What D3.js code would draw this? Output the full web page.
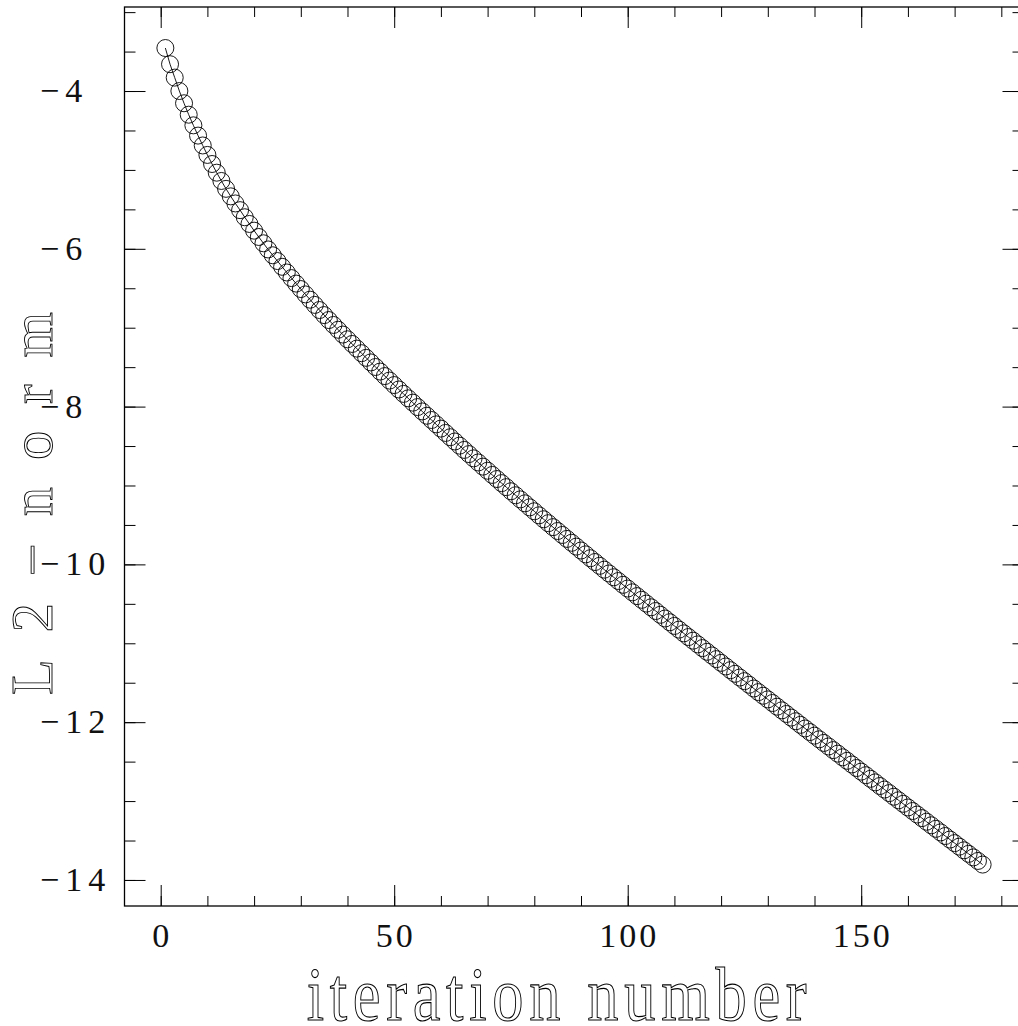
<!DOCTYPE html>
<html>
<head>
<meta charset="utf-8">
<script src="https://cdn.jsdelivr.net/npm/d3@7"></script>
<style>
  html, body { margin: 0; padding: 0; background: #fff; }
  svg { display: block; }
</style>
</head>
<body>
<svg id="chart" width="1018" height="1026"></svg>
<script>
// ---- data ----
const iterations = d3.range(1, 177);
const l2norm = [
  -3.455, -3.66, -3.83, -4.00, -4.155, -4.30, -4.435, -4.565, -4.69, -4.81,
  -4.925, -5.035, -5.14, -5.24, -5.335, -5.425, -5.51, -5.60, -5.685, -5.77,
  -5.85, -5.93, -6.008, -6.082, -6.155, -6.228, -6.30, -6.371, -6.441, -6.51,
  -6.578, -6.645, -6.711, -6.776, -6.84, -6.903, -6.965, -7.026, -7.087, -7.147,
  -7.206, -7.265, -7.323, -7.382, -7.44, -7.498, -7.556, -7.613, -7.67, -7.727,
  -7.783, -7.839,
  -7.895, -7.950, -8.006, -8.061, -8.116,
  -8.170, -8.225, -8.279, -8.334, -8.388,
  -8.442, -8.495, -8.549, -8.602, -8.656,
  -8.708, -8.761, -8.813, -8.866, -8.918,
  -8.970, -9.021, -9.073, -9.124, -9.176,
  -9.226, -9.277, -9.327, -9.378, -9.428,
  -9.478, -9.528, -9.577, -9.627, -9.677,
  -9.726, -9.775, -9.824, -9.873, -9.922,
  -9.970, -10.018, -10.067, -10.115, -10.163,
  -10.211, -10.259, -10.306, -10.354, -10.402,
  -10.449, -10.497, -10.544, -10.591, -10.639,
  -10.686, -10.733, -10.780, -10.827, -10.874,
  -10.921, -10.967, -11.014, -11.061, -11.108,
  -11.154, -11.201, -11.248, -11.294, -11.341,
  -11.387, -11.434, -11.480, -11.526, -11.573,
  -11.619, -11.665, -11.711, -11.757, -11.804,
  -11.850, -11.896, -11.942, -11.988, -12.034,
  -12.080, -12.125, -12.171, -12.217, -12.263,
  -12.308, -12.354, -12.399, -12.445, -12.490,
  -12.536, -12.581, -12.627, -12.672, -12.718,
  -12.763, -12.809, -12.854, -12.899, -12.945,
  -12.990, -13.035, -13.081, -13.126, -13.171,
  -13.216, -13.262, -13.307, -13.352, -13.397,
  -13.443, -13.488, -13.533, -13.578, -13.624,
  -13.669, -13.714, -13.759, -13.805
];
const xMajorTicks = [0, 50, 100, 150];
const xMinorTicks = [0, 10, 20, 30, 40, 50, 60, 70, 80, 90, 100, 110, 120, 130, 140, 150, 160, 170, 180];
const yMajorTicks = [-14, -12, -10, -8, -6, -4];
const yMinorTicks = [-14, -13.5, -13, -12.5, -12, -11.5, -11, -10.5, -10, -9.5, -9, -8.5, -8, -7.5, -7, -6.5, -6, -5.5, -5, -4.5, -4, -3.5, -3];
const xLabel = "iteration number";
const yLabel = "L2\u2212norm";

(function () {
// ---- layout ----
const pLeft = 124.5, pRight = 1023.5, pTop = 7, pBottom = 906;
const svg = d3.select("#chart");
const labFont = "'Liberation Serif', 'DejaVu Serif', serif";

// font metrics helper (canvas)
const ctx = document.createElement("canvas").getContext("2d");
function metrics(str, size) {
  ctx.font = `${size}px ${labFont}`;
  return ctx.measureText(str);
}

const x = d3.scaleLinear().domain([-7.75, 184.75]).range([pLeft, pRight]);
const y = d3.scaleLinear().domain([-14.33, -2.935]).range([pBottom, pTop]);

function styleAxis(g) {
  g.select(".domain").remove();
  g.selectAll(".tick line").attr("stroke", "#000").attr("stroke-width", 1);
  g.selectAll(".tick text").remove();
}

// bottom / top ticks (inside)
svg.append("g").attr("transform", `translate(0,${pBottom})`)
  .call(d3.axisBottom(x).tickValues(xMinorTicks).tickSize(-10).tickFormat("")).call(styleAxis);
svg.append("g").attr("transform", `translate(0,${pBottom})`)
  .call(d3.axisBottom(x).tickValues(xMajorTicks).tickSize(-21).tickFormat("")).call(styleAxis);
svg.append("g").attr("transform", `translate(0,${pTop})`)
  .call(d3.axisTop(x).tickValues(xMinorTicks).tickSize(-10).tickFormat("")).call(styleAxis);
svg.append("g").attr("transform", `translate(0,${pTop})`)
  .call(d3.axisTop(x).tickValues(xMajorTicks).tickSize(-21).tickFormat("")).call(styleAxis);

// left / right ticks (inside)
svg.append("g").attr("transform", `translate(${pLeft},0)`)
  .call(d3.axisLeft(y).tickValues(yMinorTicks).tickSize(-11).tickFormat("")).call(styleAxis);
svg.append("g").attr("transform", `translate(${pLeft},0)`)
  .call(d3.axisLeft(y).tickValues(yMajorTicks).tickSize(-21).tickFormat("")).call(styleAxis);
svg.append("g").attr("transform", `translate(${pRight},0)`)
  .call(d3.axisRight(y).tickValues(yMinorTicks).tickSize(-11).tickFormat("")).call(styleAxis);
svg.append("g").attr("transform", `translate(${pRight},0)`)
  .call(d3.axisRight(y).tickValues(yMajorTicks).tickSize(-21).tickFormat("")).call(styleAxis);

// frame
svg.append("rect")
  .attr("x", pLeft).attr("y", pTop)
  .attr("width", pRight - pLeft).attr("height", pBottom - pTop)
  .attr("fill", "none").attr("stroke", "#000").attr("stroke-width", 1.3);

// tick label sizing: digit height ~22px
const digitH100 = metrics("0", 100).actualBoundingBoxAscent || 70;
const tickSize = 22.5 / digitH100 * 100;

svg.append("g").selectAll("text").data(xMajorTicks).join("text")
  .attr("x", d => x(d) + 1.5)
  .attr("y", 946.5)
  .attr("text-anchor", "middle")
  .attr("font-family", labFont)
  .attr("font-size", tickSize)
  .attr("letter-spacing", 3)
  .attr("fill", "#111")
  .text(d => String(d));

svg.append("g").selectAll("text").data(yMajorTicks).join("text")
  .attr("x", 40)
  .attr("y", d => y(d) + 11)
  .attr("text-anchor", "start")
  .attr("font-family", labFont)
  .attr("font-size", tickSize)
  .attr("letter-spacing", 6)
  .attr("fill", "#111")
  .text(d => (d < 0 ? "\u2212" : "") + Math.abs(d));

// x title: natural advance ~415px, x-height ~35px, spread to 500px
const xw100 = metrics(xLabel, 100).width;
const xh100 = metrics("x", 100).actualBoundingBoxAscent || 46;
const xFont = 415 / xw100 * 100;
const xScaleY = 35 / (xh100 * xFont / 100);
svg.append("g")
  .attr("transform", `translate(306.7,1019.5) scale(1,${xScaleY})`)
  .append("text")
  .attr("x", 0).attr("y", 0)
  .attr("textLength", 500).attr("lengthAdjust", "spacing")
  .attr("font-family", labFont)
  .attr("font-size", xFont)
  .attr("fill", "#fff").attr("stroke", "#000").attr("stroke-width", 0.9)
  .text(xLabel);

// y title: cap height ~38px, spread to 383px
const capH100 = metrics("L", 100).actualBoundingBoxAscent || 66;
const yFont = 38 / capH100 * 100;
svg.append("text")
  .attr("transform", `translate(51.5,695) rotate(-90)`)
  .attr("x", 0).attr("y", 0)
  .attr("textLength", 383).attr("lengthAdjust", "spacing")
  .attr("font-family", labFont)
  .attr("font-size", yFont)
  .attr("fill", "#fff").attr("stroke", "#000").attr("stroke-width", 0.9)
  .text(yLabel);

// data
const pts = iterations.map((it, i) => [it, l2norm[i]]);
const plot = svg.append("g");
plot.append("path")
  .datum(pts)
  .attr("fill", "none")
  .attr("stroke", "#000")
  .attr("stroke-width", 0.9)
  .attr("d", d3.line().x(d => x(d[0])).y(d => y(d[1])));
plot.selectAll("circle").data(pts).join("circle")
  .attr("cx", d => x(d[0]))
  .attr("cy", d => y(d[1]))
  .attr("r", 8.5)
  .attr("fill", "none")
  .attr("stroke", "#000")
  .attr("stroke-width", 0.9);
})();
</script>
</body>
</html>
